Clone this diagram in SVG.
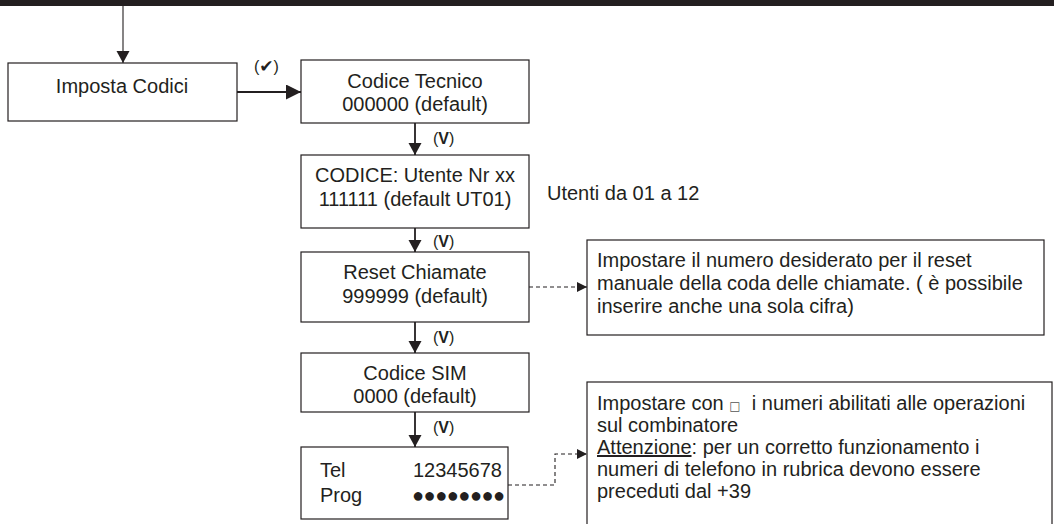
<svg xmlns="http://www.w3.org/2000/svg" width="1054" height="524" viewBox="0 0 1054 524">
<style>
  .box{fill:#fff;stroke:#231f20;stroke-width:1.2}
  .t{font-family:"Liberation Sans",Arial,sans-serif;font-size:20px;fill:#231f20}
  .c{text-anchor:middle}
  .lbl{font-family:"Liberation Sans",Arial,sans-serif;font-size:16px;fill:#231f20}
  .ln{stroke:#231f20;stroke-width:1.8;fill:none}
  .thin{stroke:#231f20;stroke-width:1.1;fill:none}
  .dash{stroke:#231f20;stroke-width:1.1;fill:none;stroke-dasharray:4 3}
</style>
<defs>
  <marker id="ah" markerUnits="userSpaceOnUse" markerWidth="13" markerHeight="14" refX="12" refY="6.5" orient="auto">
    <path d="M0,0 L12,6.5 L0,13 z" fill="#231f20"/>
  </marker>
  <marker id="ahb" markerUnits="userSpaceOnUse" markerWidth="16" markerHeight="16" refX="15" refY="7.5" orient="auto">
    <path d="M0,0 L15,7.5 L0,15 z" fill="#231f20"/>
  </marker>
  <marker id="ahd" markerUnits="userSpaceOnUse" markerWidth="11" markerHeight="11" refX="10" refY="5" orient="auto">
    <path d="M0,0 L10,5 L0,10 z" fill="#231f20"/>
  </marker>
</defs>
<rect x="0" y="0" width="1054" height="6" fill="#231f20"/>

<g id="connectors">
  <line class="thin" x1="123" y1="6" x2="123" y2="63" marker-end="url(#ah)"/>
  <line class="ln" x1="237" y1="92" x2="301" y2="92" marker-end="url(#ahb)"/>
  <text class="lbl" x="254" y="72" font-size="18">(<tspan font-family="DejaVu Sans" font-size="17">✔</tspan>)</text>
  <line class="ln" x1="415" y1="123" x2="415" y2="155" marker-end="url(#ah)"/>
  <text class="lbl" x="433" y="144">(<tspan font-weight="bold">V</tspan>)</text>
  <line class="ln" x1="415" y1="228" x2="415" y2="252" marker-end="url(#ah)"/>
  <text class="lbl" x="433" y="247">(<tspan font-weight="bold">V</tspan>)</text>
  <line class="ln" x1="415" y1="322" x2="415" y2="353" marker-end="url(#ah)"/>
  <text class="lbl" x="433" y="343">(<tspan font-weight="bold">V</tspan>)</text>
  <line class="ln" x1="415" y1="412" x2="415" y2="447" marker-end="url(#ah)"/>
  <text class="lbl" x="433" y="433">(<tspan font-weight="bold">V</tspan>)</text>
  <line class="dash" x1="529" y1="287" x2="587" y2="287" marker-end="url(#ahd)"/>
  <polyline class="dash" points="508,485 555,485 555,454 587,454" marker-end="url(#ahd)"/>
</g>

<g id="imposta-codici">
  <rect class="box" x="8" y="63" width="229" height="58"/>
  <text class="t c" x="122" y="93">Imposta Codici</text>
</g>
<g id="codice-tecnico">
  <rect class="box" x="301" y="60" width="228" height="63"/>
  <text class="t c" x="415" y="88">Codice Tecnico</text>
  <text class="t c" x="415" y="111">000000 (default)</text>
</g>
<g id="codice-utente">
  <rect class="box" x="301" y="155" width="228" height="73"/>
  <text class="t c" x="415" y="182">CODICE: Utente Nr xx</text>
  <text class="t c" x="415" y="206">111111 (default UT01)</text>
</g>
<g id="utenti-note">
  <text class="t" x="547" y="200">Utenti da 01 a 12</text>
</g>
<g id="reset-chiamate">
  <rect class="box" x="301" y="252" width="228" height="70"/>
  <text class="t c" x="415" y="279">Reset Chiamate</text>
  <text class="t c" x="415" y="303">999999 (default)</text>
</g>
<g id="reset-note">
  <rect class="box" x="587" y="240" width="457" height="95"/>
  <text class="t" x="597" y="267">Impostare il numero desiderato per il reset</text>
  <text class="t" x="597" y="290">manuale della coda delle chiamate. ( è possibile</text>
  <text class="t" x="597" y="313">inserire anche una sola cifra)</text>
</g>
<g id="codice-sim">
  <rect class="box" x="301" y="353" width="228" height="59"/>
  <text class="t c" x="415" y="380">Codice SIM</text>
  <text class="t c" x="415" y="403">0000 (default)</text>
</g>
<g id="tel-prog">
  <rect class="box" x="301" y="447" width="207" height="72"/>
  <text class="t" x="320" y="477">Tel</text>
  <text class="t" x="413" y="477">12345678</text>
  <text class="t" x="320" y="502">Prog</text>
  <text class="t" x="412" y="502" font-size="15" letter-spacing="-0.5">●●●●●●●●</text>
</g>
<g id="tel-note">
  <rect class="box" x="587" y="382" width="465" height="160"/>
  <text class="t" x="597" y="410" xml:space="preserve">Impostare con <tspan font-family="DejaVu Sans" font-size="12" fill="#555">□</tspan>  i numeri abilitati alle operazioni</text>
  <text class="t" x="597" y="432">sul combinatore</text>
  <text class="t" x="597" y="454"><tspan text-decoration="underline">Attenzione</tspan>: per un corretto funzionamento i</text>
  <text class="t" x="597" y="476">numeri di telefono in rubrica devono essere</text>
  <text class="t" x="597" y="498">preceduti dal +39</text>
</g>
</svg>
